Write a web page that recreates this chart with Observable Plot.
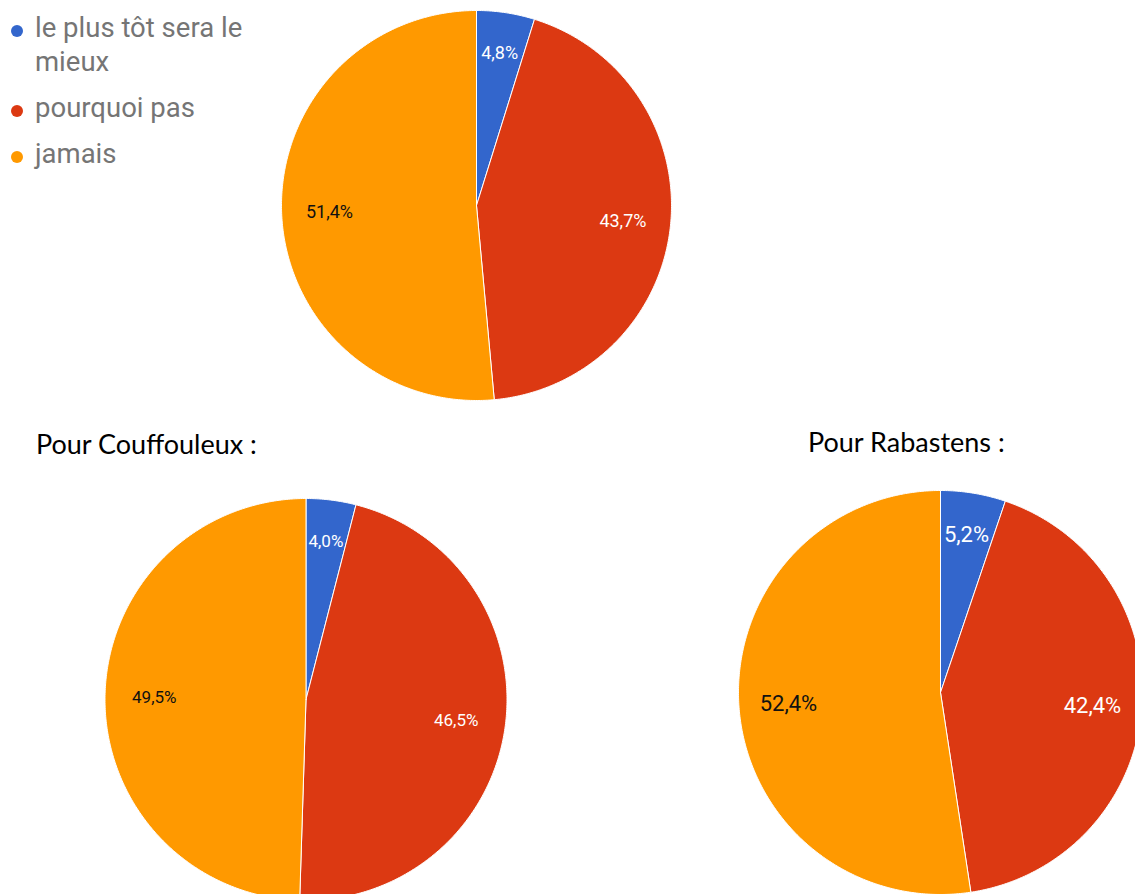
<!DOCTYPE html>
<html><head><meta charset="utf-8">
<script src="https://cdn.jsdelivr.net/npm/d3@7"></script>
<script src="https://cdn.jsdelivr.net/npm/@observablehq/plot@0.6"></script>
<style>
html,body{margin:0;padding:0;background:#fff;overflow:hidden;}
#wrap{position:relative;width:1135px;height:894px;overflow:hidden;}
#wrap svg{position:absolute;left:0;top:0;}
.legend{position:absolute;left:11px;top:11px;font-family:Roboto,sans-serif;font-size:27.5px;color:#757575;}
.legend .item{display:flex;align-items:flex-start;margin-bottom:12px;line-height:34px;}
.legend .dot{width:12px;height:12px;border-radius:50%;margin:14px 12px 0 0;flex:none;}
.legend .lab{width:240px;}
.title{position:absolute;font-family:Lato,"Open Sans",sans-serif;font-size:27px;color:#000;white-space:nowrap;line-height:32px;}
</style></head>
<body><div id="wrap"></div>
<script>
const categories = ["le plus tôt sera le mieux", "pourquoi pas", "jamais"];
const colors = ["#3366CC", "#DC3912", "#FF9900"];
const pieNames = ["Ensemble", "Pour Couffouleux :", "Pour Rabastens :"];
const valuesAll = [4.8, 43.7, 51.4];
const valuesCouffouleux = [4.0, 46.5, 49.5];
const valuesRabastens = [5.2, 42.4, 52.4];

// layout (pixels)
const pies = [
  {values: valuesAll, cx: 476, cy: 205, r: 195, font: 18},
  {values: valuesCouffouleux, cx: 305.5, cy: 699, r: 201, font: 17},
  {values: valuesRabastens, cx: 940, cy: 692, r: 202, font: 22}
];

const slicePts = [];
const labels = [];
pies.forEach((p, pi) => {
  const total = d3.sum(p.values);
  let acc = 0;
  p.values.forEach((v, i) => {
    const a0 = acc / total * 2 * Math.PI;
    acc += v;
    const a1 = acc / total * 2 * Math.PI;
    const key = pi + "-" + i;
    slicePts.push({key, cat: categories[i], x: p.cx, y: p.cy});
    const n = Math.max(2, Math.ceil((a1 - a0) / (Math.PI / 360)));
    for (let k = 0; k <= n; k++) {
      const a = a0 + (a1 - a0) * k / n;
      slicePts.push({key, cat: categories[i], x: p.cx + p.r * Math.sin(a), y: p.cy - p.r * Math.cos(a)});
    }
    slicePts.push({key, cat: categories[i], x: p.cx, y: p.cy});
    const am = (a0 + a1) / 2;
    const rr = p.r * (v / total < 0.1 ? 0.79 : 0.755);
    labels.push({
      x: p.cx + rr * Math.sin(am), y: p.cy - rr * Math.cos(am),
      text: v.toFixed(1).replace(".", ",") + "%",
      dark: i === 2, font: p.font
    });
  });
});

const fontsizes = [...new Set(labels.map(d => d.font))];
const textMarks = [];
fontsizes.forEach(fs => {
  textMarks.push(Plot.text(labels.filter(d => d.font === fs && !d.dark), {x: "x", y: "y", text: "text", fill: "white", fontSize: fs, fontFamily: "Roboto"}));
  textMarks.push(Plot.text(labels.filter(d => d.font === fs && d.dark), {x: "x", y: "y", text: "text", fill: "#111", fontSize: fs, fontFamily: "Roboto"}));
});

const chart = Plot.plot({
  width: 1135, height: 894,
  margin: 0,
  x: {domain: [0, 1135], range: [0, 1135], axis: null},
  y: {domain: [0, 894], range: [0, 894], axis: null},
  color: {domain: categories, range: colors},
  style: {background: "white"},
  marks: [
    Plot.line(slicePts, {x: "x", y: "y", z: "key", fill: "cat", stroke: "white", strokeWidth: 1, curve: "linear"}),
    ...textMarks
  ]
});
const wrap = document.getElementById("wrap");
wrap.appendChild(chart);

// legend
const leg = document.createElement("div");
leg.className = "legend";
categories.forEach((c, i) => {
  const it = document.createElement("div");
  it.className = "item";
  it.innerHTML = `<span class="dot" style="background:${colors[i]}"></span><span class="lab">${c}</span>`;
  leg.appendChild(it);
});
wrap.appendChild(leg);

// titles
const titlePos = [null, {left: 36, top: 428}, {left: 808, top: 426}];
pieNames.forEach((t, i) => {
  if (!titlePos[i]) return;
  const d = document.createElement("div");
  d.className = "title";
  d.style.left = titlePos[i].left + "px";
  d.style.top = titlePos[i].top + "px";
  d.textContent = t;
  wrap.appendChild(d);
});
</script></body></html>
